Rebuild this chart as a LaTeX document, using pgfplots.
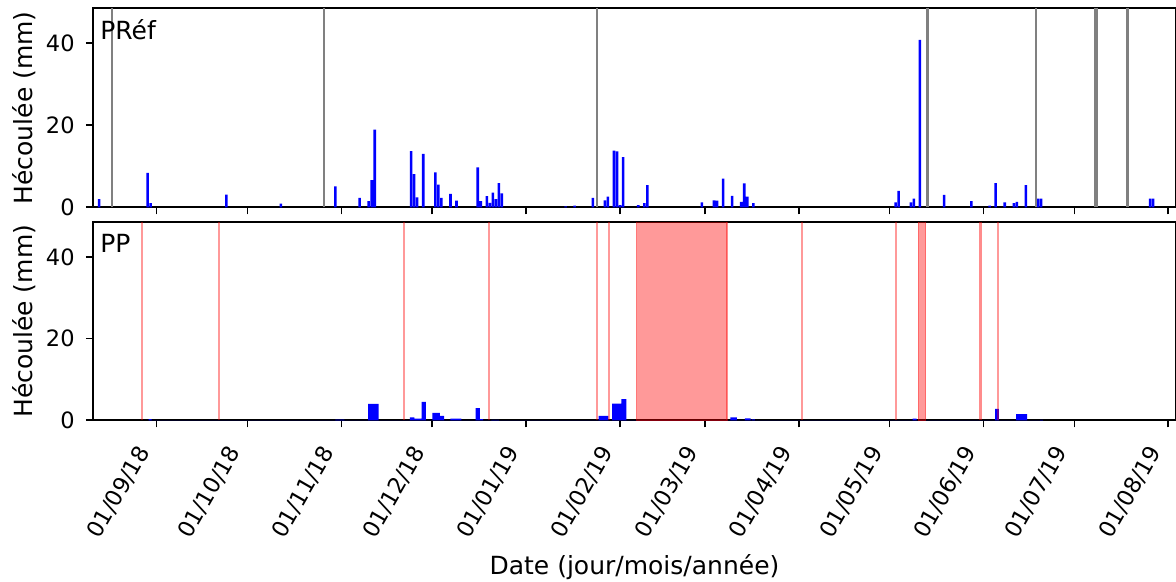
\documentclass[border=0pt]{standalone}
\usepackage{pgfplots}
\usepackage{pgfplotstable}
\pgfplotsset{compat=1.18}
\usepackage{fontspec}
\setmainfont{DejaVu Sans}

% day 0 = 01/09/2018
\pgfplotstableread{
x y
-19 2.0
-3 8.4
-2 1.0
23 3.1
41 0.9
59 5.1
67 2.3
70 1.5
71 6.6
72 18.9
84 13.7
85 8.1
86 2.4
88 13.0
92 8.5
93 5.5
94 2.3
97 3.3
99 1.6
106 9.7
107 1.5
109 2.7
110 1.1
111 3.6
112 2.0
113 5.9
114 3.4
135 0.25
138 0.4
144 2.3
148 1.7
149 2.6
151 13.8
152 13.6
153 0.5
154 12.2
159 0.5
161 1.0
162 5.4
180 1.2
184 1.7
185 1.6
187 7.0
190 2.8
193 1.3
194 5.8
195 2.6
197 1.0
244 1.2
245 4.0
249 1.2
250 2.1
252 40.8
260 3.0
269 1.5
275 0.4
277 5.9
280 1.2
283 1.0
284 1.3
287 5.4
291 2.1
292 2.1
328 2.1
329 2.1
}\prefdata

\pgfplotstableread{
x y
-2.7 0.3
-1.7 0
59 0.15
62 0
69.8 4.0
73.3 0
83.6 0.7
85.1 0.4
87.5 4.5
88.9 0
91 1.8
93.5 1.1
94.9 0
97 0.4
98.8 0
98.9 0.4
100.6 0
105.3 3.0
106.7 0.3
107.8 0
110.5 0.1
113 0
145.9 1.1
149.1 0
150.4 4.1
153.4 5.2
155.1 0
189.4 0.7
191.6 0
194.2 0.5
196.1 0
196.5 0.2
197.5 0
249.6 0.4
250.9 0
276.8 2.8
278.1 0
283.8 1.5
287.4 0
291.7 0.1
292.7 0
}\ppdata

\pgfplotsset{
  panel/.style={
    scale only axis,
    width=541.5pt,
    xmin=-21.03, xmax=336.56,
    ymin=0, ymax=48.5,
    ytick={0,20,40},
    xtick={0,30,61,91,122,153,181,212,242,273,303,334},
    tick align=outside,
    xtick pos=bottom, ytick pos=left,
    major tick length=3.5pt,
    every tick/.style={black, line width=0.8pt},
    axis line style={line width=0.8pt},
    /pgf/number format/assume math mode=true,
    tick label style={font=\fontsize{11.25}{13.5}\selectfont},
    yticklabel style={anchor=east, inner sep=0pt, xshift=-5.5pt},
    ylabel={Hécoulée (mm)},
    every axis y label/.style={at={(axis description cs:-0.0563,0.5)}, rotate=90, anchor=base, font=\fontsize{12.5}{15}\selectfont},
    clip=true,
  }
}

\begin{document}
\begin{tikzpicture}
\begin{axis}[panel, name=top, at={(0,0)}, anchor=north west, height=99.5pt,
  xticklabels={}]
  \addplot[ybar, bar width=0.85, fill=blue, draw=none] table[x=x, y=y] {\prefdata};
  \addplot[ycomb, draw=gray, line width=1pt] coordinates {(-14.9,60) (55.3,60) (145.5,60) (290.2,60)};
  \addplot[ycomb, draw=gray, line width=1.8pt] coordinates {(254.5,60) (310.2,60) (320.5,60)};
  \node[anchor=base west, inner sep=0pt, font=\fontsize{12.5}{15}\selectfont] at ([xshift=3.5pt, yshift=-15.8pt]rel axis cs:0,1) {PRéf};
\end{axis}
\begin{axis}[panel, name=bot, at={(0,-107pt)}, anchor=north west, height=99pt,
  xticklabels={01/09/18,01/10/18,01/11/18,01/12/18,01/01/19,01/02/19,01/03/19,01/04/19,01/05/19,01/06/19,01/07/19,01/08/19},
  xticklabel style={xshift=-10.5pt, yshift=-8pt, rotate=60, anchor=north east, inner sep=0pt},
  xlabel={Date (jour/mois/année)},
  every axis x label/.style={at={(rel axis cs:0.5,0)}, anchor=base, yshift=-77pt, font=\fontsize{12.5}{15}\selectfont}]
  \addplot[ybar interval, fill=blue, draw=none] table[x=x, y=y] {\ppdata};
  \addplot[ycomb, draw=red, draw opacity=0.4, line width=1pt] coordinates {(-4.8,60) (20.7,60) (81.6,60) (109.6,60) (145.5,60) (149.2,60) (213.1,60) (244.1,60) (277.9,60)};
  \addplot[ycomb, draw=red, draw opacity=0.45, line width=1.6pt] coordinates {(272.1,60)};
  \addplot[fill=red, fill opacity=0.4, draw=red, draw opacity=0.45, line width=0.6pt] coordinates {(158.5,0) (158.5,60) (188.3,60) (188.3,0)} \closedcycle;
  \addplot[fill=red, fill opacity=0.4, draw=red, draw opacity=0.45, line width=0.6pt] coordinates {(251.5,0) (251.5,60) (253.9,60) (253.9,0)} \closedcycle;
  \node[anchor=base west, inner sep=0pt, font=\fontsize{12.5}{15}\selectfont] at ([xshift=3.5pt, yshift=-15pt]rel axis cs:0,1) {PP};
\end{axis}
\pgfresetboundingbox
\path[use as bounding box] (-46.5pt,4.15pt) rectangle (541.5pt,-286.85pt);
\end{tikzpicture}
\end{document}
